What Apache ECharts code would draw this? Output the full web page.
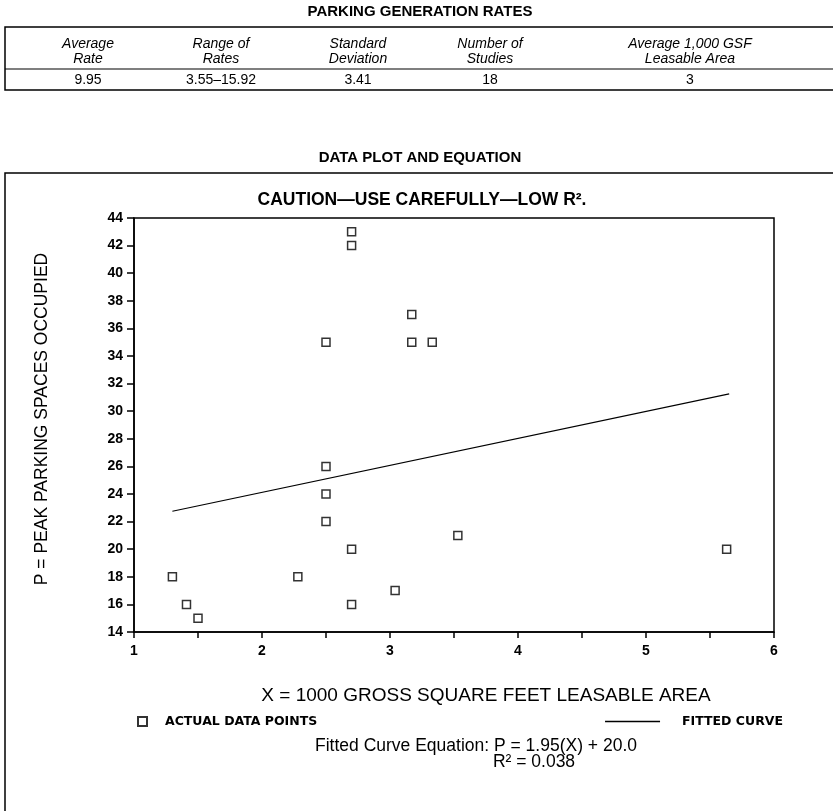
<!DOCTYPE html>
<html>
<head>
<meta charset="utf-8">
<script src="https://cdn.jsdelivr.net/npm/echarts@6/dist/echarts.min.js"></script>
<style>
html,body{margin:0;padding:0;background:#fff;}
#chart{width:833px;height:811px;}
</style>
</head>
<body>
<div id="chart"></div>
<script>
// ---- data ----
const tableTitle = 'PARKING GENERATION RATES';
const tableHeaders = [
  ['Average', 'Rate'],
  ['Range of', 'Rates'],
  ['Standard', 'Deviation'],
  ['Number of', 'Studies'],
  ['Average 1,000 GSF', 'Leasable Area']
];
const tableValues = ['9.95', '3.55\u201315.92', '3.41', '18', '3'];

const xValues = [1.3, 1.41, 1.5, 2.28, 2.5, 2.5, 2.5, 2.5, 2.7, 2.7, 2.7, 2.7, 3.04, 3.17, 3.17, 3.33, 3.53, 5.63];
const yValues = [18, 16, 15, 18, 26, 24, 22, 35, 43, 42, 20, 16, 17, 37, 35, 35, 21, 20];
const fitX = [1.3, 5.65];
const fitY = [22.75, 31.25];

const xTicks = [1, 2, 3, 4, 5, 6];
const plotTitle = 'DATA PLOT AND EQUATION';
const cautionText = 'CAUTION\u2014USE CAREFULLY\u2014LOW R\u00B2.';
const xName = 'X = 1000 GROSS SQUARE FEET LEASABLE AREA';
const yName = 'P = PEAK PARKING SPACES OCCUPIED';
const eqLine1 = 'Fitted Curve Equation: P = 1.95(X) + 20.0';
const eqLine2 = 'R\u00B2 = 0.038';

// ---- build ----
const FONT = '"Liberation Sans", Arial, Helvetica, sans-serif';
const WIDE = '"DejaVu Sans", "Liberation Sans", sans-serif';
const scatterData = xValues.map((x, i) => [x, yValues[i]]);
const fitData = fitX.map((x, i) => [x, fitY[i]]);

const colCenters = [88, 221, 358, 490, 690];
const tTop = 27, tSep = 69, tBot = 90;

const graphics = [];
graphics.push({type: 'text', x: 420, y: 12,
  style: {text: tableTitle, font: 'bold 15px ' + FONT, fill: '#000', align: 'center', verticalAlign: 'middle'}});
graphics.push({type: 'rect', shape: {x: 5, y: tTop, width: 860, height: tBot - tTop},
  style: {fill: 'none', stroke: '#000', lineWidth: 1.5}});
graphics.push({type: 'line', shape: {x1: 5, y1: tSep, x2: 833, y2: tSep},
  style: {stroke: '#000', lineWidth: 1.2}});
tableHeaders.forEach((h, i) => {
  graphics.push({type: 'text', x: colCenters[i], y: tTop + 17,
    style: {text: h[0], font: 'italic 14px ' + FONT, fill: '#000', align: 'center', verticalAlign: 'middle'}});
  graphics.push({type: 'text', x: colCenters[i], y: tTop + 32,
    style: {text: h[1], font: 'italic 14px ' + FONT, fill: '#000', align: 'center', verticalAlign: 'middle'}});
  graphics.push({type: 'text', x: colCenters[i], y: (tSep + tBot) / 2 + 1,
    style: {text: tableValues[i], font: '14px ' + FONT, fill: '#000', align: 'center', verticalAlign: 'middle'}});
});
graphics.push({type: 'text', x: 420, y: 158,
  style: {text: plotTitle, font: 'bold 15px ' + FONT, fill: '#000', align: 'center', verticalAlign: 'middle'}});
graphics.push({type: 'rect', shape: {x: 5, y: 173, width: 860, height: 700},
  style: {fill: 'none', stroke: '#000', lineWidth: 1.5}});
graphics.push({type: 'text', x: 422, y: 200,
  style: {text: cautionText, font: 'bold 17.5px ' + FONT, fill: '#000', align: 'center', verticalAlign: 'middle'}});
graphics.push({type: 'text', x: 42, y: 419, rotation: Math.PI / 2,
  style: {text: yName, font: '17.5px ' + FONT, fill: '#000', align: 'center', verticalAlign: 'middle'}});
graphics.push({type: 'text', x: 486, y: 696,
  style: {text: xName, font: '19px ' + FONT, fill: '#000', align: 'center', verticalAlign: 'middle'}});
graphics.push({type: 'text', x: 476, y: 746,
  style: {text: eqLine1, font: '17.5px ' + FONT, fill: '#000', align: 'center', verticalAlign: 'middle'}});
graphics.push({type: 'text', x: 534, y: 762,
  style: {text: eqLine2, font: '17.5px ' + FONT, fill: '#000', align: 'center', verticalAlign: 'middle'}});

const chart = echarts.init(document.getElementById('chart'));
chart.setOption({
  backgroundColor: '#fff',
  animation: false,
  textStyle: {fontFamily: FONT},
  grid: {left: 134, right: 59, top: 218, bottom: 179, show: true, borderColor: '#000', borderWidth: 1.5, backgroundColor: 'transparent'},
  legend: [
    {data: [{name: 'ACTUAL DATA POINTS', icon: 'rect'}], left: 132, top: 710, selectedMode: false, itemWidth: 9, itemHeight: 9,
     textStyle: {fontFamily: WIDE, fontSize: 12.5, fontWeight: 'bold', color: '#000', padding: [0, 0, 0, 13]}},
    {data: [{name: 'FITTED CURVE', icon: 'rect'}], right: 45, top: 710, selectedMode: false, itemWidth: 55, itemHeight: 1.5,
     textStyle: {fontFamily: WIDE, fontSize: 12.5, fontWeight: 'bold', color: '#000', padding: [0, 0, 0, 17]}}
  ],
  xAxis: {
    type: 'value', min: 1, max: 6, interval: 0.5,
    axisLine: {show: true, lineStyle: {color: '#000', width: 1.5}},
    axisTick: {show: true, inside: false, length: 6, lineStyle: {color: '#000', width: 1.5}},
    axisLabel: {color: '#000', fontSize: 14, fontWeight: 'bold', margin: 12, fontFamily: FONT,
      formatter: v => (xTicks.indexOf(v) >= 0 ? String(v) : '')},
    splitLine: {show: false}
  },
  yAxis: {
    type: 'value', min: 14, max: 44, interval: 2,
    axisLine: {show: true, lineStyle: {color: '#000', width: 1.5}},
    axisTick: {show: true, inside: false, length: 7, lineStyle: {color: '#000', width: 1.5}},
    axisLabel: {color: '#000', fontSize: 14, fontWeight: 'bold', margin: 11, fontFamily: FONT},
    splitLine: {show: false}
  },
  series: [
    {name: 'ACTUAL DATA POINTS', type: 'scatter', data: scatterData, symbol: 'rect', symbolSize: 8,
     itemStyle: {color: '#fff', borderColor: '#000', borderWidth: 1.5}, z: 3},
    {name: 'FITTED CURVE', type: 'line', data: fitData, symbol: 'none', showSymbol: false,
     lineStyle: {color: '#000', width: 1.2}, itemStyle: {color: '#000'}, z: 2}
  ],
  graphic: graphics
});
</script>
</body>
</html>
